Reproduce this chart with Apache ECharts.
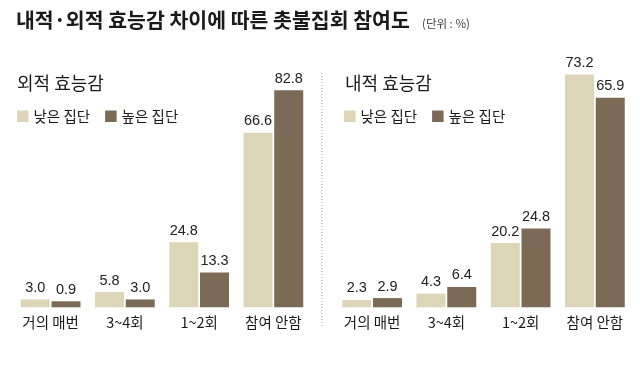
<!DOCTYPE html>
<html>
<head>
<meta charset="utf-8">
<script src="https://cdn.jsdelivr.net/npm/echarts@6/dist/echarts.min.js"></script>
<style>
html,body{margin:0;padding:0;background:#fff;}
#chart{width:640px;height:370px;}
</style>
</head>
<body>
<div id="chart"></div>
<script>
const categories = ['거의 매번', '3~4회', '1~2회', '참여 안함'];
const seriesNames = ['낮은 집단', '높은 집단'];
const externalLow = [3.0, 5.8, 24.8, 66.6];
const externalHigh = [0.9, 3.0, 13.3, 82.8];
const internalLow = [2.3, 4.3, 20.2, 73.2];
const internalHigh = [2.9, 6.4, 24.8, 65.9];
const mainTitle = '내적·외적 효능감 차이에 따른 촛불집회 참여도';
const unitText = '(단위 : %)';
const panelTitles = ['외적 효능감', '내적 효능감'];

const LIGHT = '#ddd5b8';
const DARK = '#7b6a55';
const KR = "'Noto Sans CJK KR', sans-serif";
const NUM = "'Liberation Sans', Arial, sans-serif";

const chart = echarts.init(document.getElementById('chart'), null, {renderer: 'canvas'});

function barSeries(name, data, idx, color) {
  return {
    type: 'bar',
    name: name,
    data: data,
    xAxisIndex: idx,
    yAxisIndex: idx,
    barWidth: 29,
    barGap: '6%',
    barMinHeight: 6,
    itemStyle: {color: color},
    label: {
      show: true,
      position: 'top',
      distance: 4,
      formatter: p => p.value.toFixed(1),
      fontFamily: NUM,
      fontSize: 14.5,
      color: '#222'
    },
    emphasis: {disabled: true},
    animation: false
  };
}

function xAxis(idx) {
  return {
    type: 'category',
    gridIndex: idx,
    data: categories,
    axisLine: {show: false},
    axisTick: {show: false},
    axisLabel: {interval: 0, hideOverlap: false, fontFamily: KR, fontSize: 14.5, color: '#1a1a1a', margin: 8}
  };
}
function yAxis(idx) {
  return {type: 'value', gridIndex: idx, min: 0, max: 90, show: false, splitLine: {show: false}};
}
function legend(left) {
  return {
    left: left, top: 104,
    itemWidth: 11.5, itemHeight: 11.5, itemGap: 15,
    icon: 'rect',
    data: seriesNames,
    textStyle: {fontFamily: KR, fontSize: 14.5, color: '#1a1a1a'},
    selectedMode: false
  };
}

chart.setOption({
  backgroundColor: '#fff',
  animation: false,
  title: [
    {text: mainTitle, left: 11, top: 5, textStyle: {fontFamily: KR, fontSize: 20.5, fontWeight: 'bold', color: '#1a1a1a'}},
    {text: unitText, left: 417, top: 13, textStyle: {fontFamily: KR, fontSize: 11.5, fontWeight: 'normal', color: '#444'}},
    {text: panelTitles[0], left: 12, top: 69, textStyle: {fontFamily: KR, fontSize: 18, fontWeight: 'normal', color: '#1a1a1a'}},
    {text: panelTitles[1], left: 340, top: 69, textStyle: {fontFamily: KR, fontSize: 18, fontWeight: 'normal', color: '#1a1a1a'}}
  ],
  legend: [legend(12), legend(339)],
  grid: [
    {left: 13.5, width: 297, top: 71.5, height: 235.8},
    {left: 335, width: 297, top: 21.1, height: 286.2}
  ],
  xAxis: [xAxis(0), xAxis(1)],
  yAxis: [yAxis(0), yAxis(1)],
  series: [
    barSeries(seriesNames[0], externalLow, 0, LIGHT),
    barSeries(seriesNames[1], externalHigh, 0, DARK),
    barSeries(seriesNames[0], internalLow, 1, LIGHT),
    barSeries(seriesNames[1], internalHigh, 1, DARK)
  ],
  graphic: [{
    type: 'line',
    shape: {x1: 322, y1: 73, x2: 322, y2: 328},
    style: {stroke: '#999', lineWidth: 1, lineDash: [1, 2]},
    silent: true
  }]
});
</script>
</body>
</html>
